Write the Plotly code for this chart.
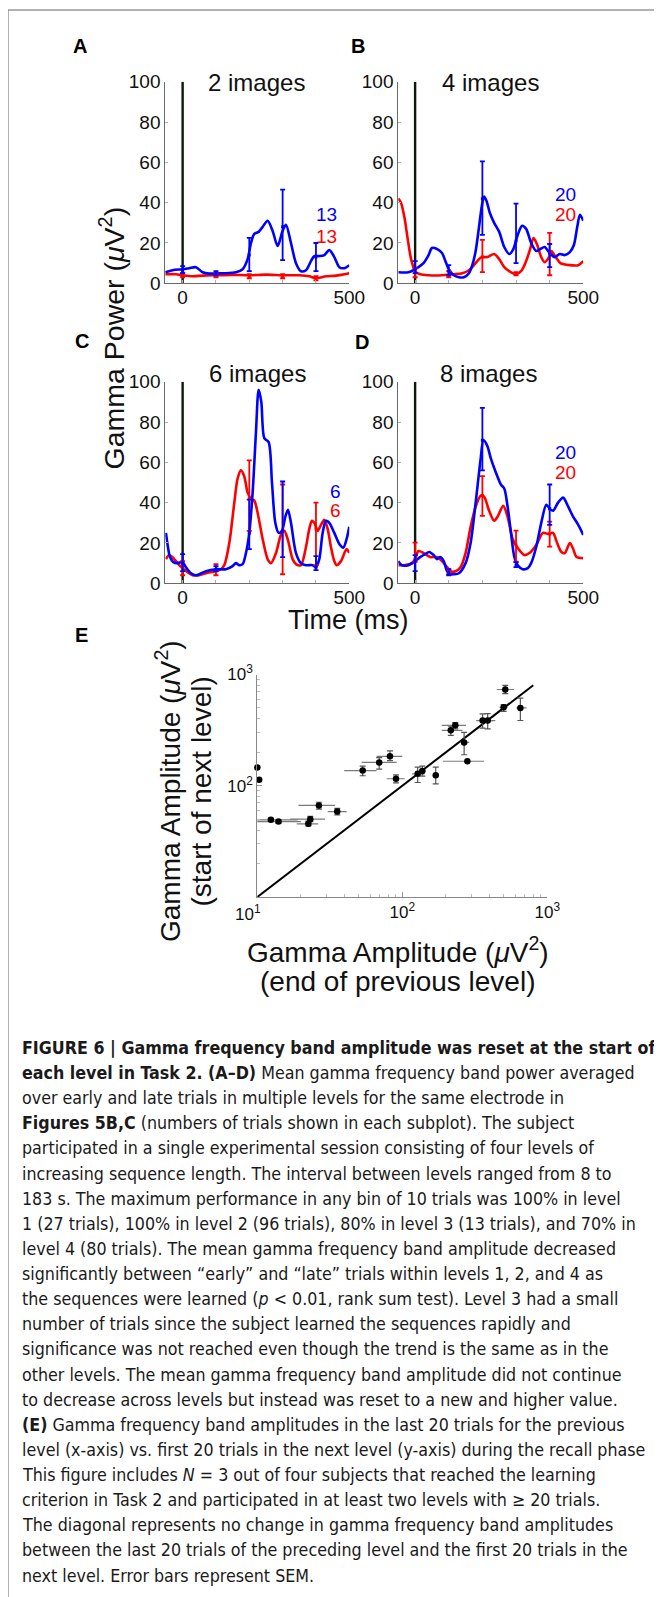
import plotly.graph_objects as go

W, H = 662, 1597
OX, OY = 8, 8  # page body margin offset compensation
def PX(x): return (x - OX) / W
def PY(y): return 1 - (y - OY) / H

FONT = "Liberation Sans, Arial, Helvetica, sans-serif"
CAPFONT = "DejaVu Sans Condensed, Liberation Sans Narrow, Arial Narrow, sans-serif"
BLUE = "#0000ff"
RED = "#ff0000"

# ---------------- Panels A-D data ----------------
a_blue_x = [-52,-30,0,20,40,60,80,100,130,160,180,195,205,215,228,240,255,270,285,300,310,325,340,355,370,385,395,410,425,440,455,470,485,500]
a_blue_y = [5.5,6.5,7,7.5,8,5.5,4.8,5,5,5.5,7,12,20,24.5,25.5,28,31,26,18.5,26,29,20,10,6,6.5,11,13.5,13.5,14,16.5,13,8,7.5,9]
a_red_x = [-52,-20,0,30,60,100,150,200,250,300,350,380,400,430,460,500]
a_red_y = [4.5,4.5,4,3.5,3.8,4,4.2,4,4.3,4,4,3.5,2.5,3.5,3.8,5]

b_blue_x = [-50,-20,0,10,25,40,50,65,80,90,100,115,130,145,160,170,180,190,198,205,212,222,235,250,265,280,292,305,318,330,345,360,372,385,400,415,430,445,460,472,482,490,500]
b_blue_y = [5.5,5.5,7,8,10,14,17.5,17,15,11,7,4,3,3,5,9,16,28,38,43,41,35,30,25.5,18,14.5,17,24,28.5,27,20,16,17,18,15,13,14.5,14,15.5,19,28,34,31]
b_red_x = [-50,-42,-32,-22,-12,0,15,40,80,110,140,160,175,190,200,215,235,250,265,280,300,315,330,342,352,362,375,385,398,405,418,432,460,485,500]
b_red_y = [42,40,33,22,12,6,4.5,4,4,4.5,5,6.5,9,12,13,13,14.5,12,8,6,4.5,6,11,17,22.5,19.5,13,10.5,13,16,13,10,9,9,11]

c_blue_x = [-50,-45,-38,-28,-15,-5,0,10,25,40,50,70,100,130,150,160,170,180,190,200,210,220,228,236,245,258,268,278,288,298,308,316,325,340,355,370,390,400,410,420,430,440,455,470,482,492,500]
c_blue_y = [25,19,13,10.5,10,10.5,10.5,8,5,4,4.5,6,7,7,8.5,10,9,9.5,15,25,45,75,96,90,72,70,50,30,25,26,33,36.5,30,15,10,9,9,8,12,25,31,30,25,19.5,17.7,22,28]
c_red_x = [-50,-40,-25,-10,0,15,30,50,70,100,115,125,140,155,165,175,185,195,205,215,225,240,255,265,280,295,305,315,330,340,355,370,380,388,395,405,415,425,435,445,455,462,475,492,500]
c_red_y = [12,14,12,9,7.5,5.5,4,4,5,6,7,9,20,40,52,56,53,45,42,41,35,22,12,10,15,24,26,22,12,9.5,9,18,27,31,30,26,29,31.5,27,18,11,9,11,17,15]

d_blue_x = [-50,-40,-20,0,15,30,42,55,65,75,85,95,105,115,130,150,165,180,195,203,215,225,240,255,265,275,285,295,305,320,335,345,360,375,390,400,410,425,440,455,470,485,500]
d_blue_y = [11,9,9,11,13,14.5,15.5,14,12,13,11,6,4.5,4.5,5,10,20,40,62,71,68,62,55,49,47,38,25,13,9,7,7.5,10,18,30,39,37,36,40,42.5,38,33,29,24]
d_red_x = [-50,-30,-10,0,10,25,45,65,80,95,105,120,135,150,165,180,195,205,220,235,245,262,275,290,305,325,340,360,380,395,410,420,435,445,460,470,480,500]
d_red_y = [9,9,10,12,16,15,13,13,11,8,6,6,8,15,28,38,43.5,43,36,31,33,38.5,33,22,17.5,14,15,19,25,24.5,25,21,15.5,15,20,17,13,12.5]

# error bars at these times
eb_x = [0, 100, 200, 300, 400]
a_blue_mid = [6.5, 5, 14, 28, 13];   a_blue_lo = [5, 4, 6, 11.5, 6];     a_blue_hi = [8.5, 6, 22.5, 46.5, 20]
a_red_mid = [4, 4, 3.5, 3.5, 2.5];   a_red_lo = [3, 3, 2.5, 2.5, 1.5];   a_red_hi = [5, 5, 4.5, 4.5, 3.5]
b_blue_mid = [7, 6, 42, 21, 15];     b_blue_lo = [5, 4, 24, 10, 8];      b_blue_hi = [11, 9, 60.5, 39.5, 19.5]
b_red_mid = [5.5, 4, 13, 4.5, 15];   b_red_lo = [3, 3, 5.5, 4, 4];       b_red_hi = [7.5, 6, 21.5, 5.5, 25]
c_blue_mid = [10, 7, 25, 26, 8];     c_blue_lo = [6, 6, 17, 13, 6.5];    c_blue_hi = [14.5, 8.5, 41.5, 50.5, 13.5]
c_red_mid = [7.5, 6, 42, 26, 27];    c_red_lo = [4, 4, 26, 4.5, 9];      c_red_hi = [11, 9.5, 61, 49, 40]
d_blue_mid = [11, 5, 71, 9, 37];     d_blue_lo = [6, 4, 56, 8, 29];      d_blue_hi = [14, 7, 87, 10.5, 49]
d_red_mid = [12, 6, 43.5, 19, 24.5]; d_red_lo = [10.7, 4.5, 33.4, 10.7, 18.2]; d_red_hi = [20.2, 7, 53.2, 26.1, 30.6]

titles = ["2 images", "4 images", "6 images", "8 images"]
trial_counts = [("13", "13"), ("20", "20"), ("6", "6"), ("20", "20")]
letters = ["A", "B", "C", "D", "E"]
x_ticks = [0, 100, 200, 300, 400, 500]
x_ticktext = ["0", " ", " ", " ", " ", "500"]
y_ticks = [0, 20, 40, 60, 80, 100]

# ---------------- Panel E data ----------------
e_x    = [10, 10.3, 12.4, 14.0, 22.5, 23.2, 26.6, 35.6, 53.3, 69.3, 82.2, 90.5, 127.6, 137.4, 170, 216, 232, 267, 281, 358, 388, 500, 513, 652]
e_y    = [146, 113, 49.4, 47.6, 45.5, 50.1, 66.5, 58.6, 137, 162, 184, 115.6, 128, 135.5, 124, 315, 349, 245, 166, 385, 385, 507, 733, 501]
e_x_lo = [10, 10.3, 8.9, 9.0, 18.7, 16.8, 19.2, 30.6, 39.8, 52.4, 66.5, 78, 117, 130, 163, 187, 187, 249, 191, 323, 360, 468, 448, 611]
e_x_hi = [10, 10.3, 19, 20, 26.3, 29.3, 34.3, 41.3, 66.4, 91.4, 100, 104, 142, 145, 178, 260, 275, 289, 366, 438, 420, 532, 588, 720]
e_y_lo = [146, 113, 48, 46, 43.5, 47.5, 61.7, 54.8, 123, 141, 168, 106, 107, 122, 104, 284, 325, 190, 166, 330, 325, 467, 672, 386]
e_y_hi = [146, 113, 51, 49, 48, 53, 71.1, 62.5, 150, 179, 206, 125, 147, 150, 147, 343, 370, 302, 166, 443, 445, 537, 800, 614]
diag = [10, 800]
e_ticks = [10, 100, 1000]
e_minor = [20, 30, 40, 50, 60, 70, 80, 90, 200, 300, 400, 500, 600, 700, 800, 900]

caption_lines = [
    "<b>FIGURE 6 | Gamma frequency band amplitude was reset at the start of</b>",
    "<b>each level in Task 2. (A–D)</b> Mean gamma frequency band power averaged",
    "over early and late trials in multiple levels for the same electrode in",
    "<b>Figures 5B,C</b> (numbers of trials shown in each subplot). The subject",
    "participated in a single experimental session consisting of four levels of",
    "increasing sequence length. The interval between levels ranged from 8 to",
    "183 s. The maximum performance in any bin of 10 trials was 100% in level",
    "1 (27 trials), 100% in level 2 (96 trials), 80% in level 3 (13 trials), and 70% in",
    "level 4 (80 trials). The mean gamma frequency band amplitude decreased",
    "significantly between “early” and “late” trials within levels 1, 2, and 4 as",
    "the sequences were learned (<i>p</i> &lt; 0.01, rank sum test). Level 3 had a small",
    "number of trials since the subject learned the sequences rapidly and",
    "significance was not reached even though the trend is the same as in the",
    "other levels. The mean gamma frequency band amplitude did not continue",
    "to decrease across levels but instead was reset to a new and higher value.",
    "<b>(E)</b> Gamma frequency band amplitudes in the last 20 trials for the previous",
    "level (x-axis) vs. first 20 trials in the next level (y-axis) during the recall phase",
    "This figure includes <i>N</i> = 3 out of four subjects that reached the learning",
    "criterion in Task 2 and participated in at least two levels with ≥ 20 trials.",
    "The diagonal represents no change in gamma frequency band amplitudes",
    "between the last 20 trials of the preceding level and the first 20 trials in the",
    "next level. Error bars represent SEM.",
]

# ---------------- build ----------------
fig = go.Figure()

panels = [
    dict(xa="x", ya="y", dx=(165.3, 349.3), dy=(81.7, 283.3), xr=[-52, 500],
         blue=(a_blue_x, a_blue_y), red=(a_red_x, a_red_y),
         be=(a_blue_mid, a_blue_lo, a_blue_hi), re=(a_red_mid, a_red_lo, a_red_hi),
         title_xy=(257, 82), lab_xy=(326.7, 215, 236), letter_xy=(80, 46)),
    dict(xa="x2", ya="y2", dx=(398.3, 583.3), dy=(81.7, 283.3), xr=[-50, 500],
         blue=(b_blue_x, b_blue_y), red=(b_red_x, b_red_y),
         be=(b_blue_mid, b_blue_lo, b_blue_hi), re=(b_red_mid, b_red_lo, b_red_hi),
         title_xy=(490, 82.5), lab_xy=(565, 195, 215), letter_xy=(358, 46)),
    dict(xa="x3", ya="y3", dx=(165.3, 349.3), dy=(381.7, 583.3), xr=[-52, 500],
         blue=(c_blue_x, c_blue_y), red=(c_red_x, c_red_y),
         be=(c_blue_mid, c_blue_lo, c_blue_hi), re=(c_red_mid, c_red_lo, c_red_hi),
         title_xy=(257.3, 373.3), lab_xy=(335, 491.7, 510.7), letter_xy=(81.7, 341)),
    dict(xa="x4", ya="y4", dx=(398.3, 583.3), dy=(381.7, 583.3), xr=[-50, 500],
         blue=(d_blue_x, d_blue_y), red=(d_red_x, d_red_y),
         be=(d_blue_mid, d_blue_lo, d_blue_hi), re=(d_red_mid, d_red_lo, d_red_hi),
         title_xy=(488.5, 373.3), lab_xy=(565, 452.7, 472.7), letter_xy=(362, 342.5)),
]

annotations = []
layout_axes = {}

def ann(text, x, y, size, color="#111", family=FONT, angle=0, xanchor="center"):
    annotations.append(dict(text=text, x=PX(x), y=PY(y), xref="paper", yref="paper",
                            xanchor=xanchor, yanchor="middle", showarrow=False, textangle=angle,
                            align="left", font=dict(family=family, size=size, color=color)))

for i, p in enumerate(panels):
    xa, ya = p["xa"], p["ya"]
    for (xs, ys), col in ((p["red"], RED), (p["blue"], BLUE)):
        fig.add_trace(go.Scatter(x=xs, y=ys, mode="lines", xaxis=xa, yaxis=ya,
                                 line=dict(color=col, width=2.6, shape="spline", smoothing=0.8),
                                 showlegend=False, hoverinfo="skip"))
    fig.add_trace(go.Scatter(x=[0, 0], y=[0, 100], mode="lines", xaxis=xa, yaxis=ya,
                             line=dict(color="#0b180b", width=2.4), showlegend=False, hoverinfo="skip"))
    for (mid, lo, hi), col in ((p["re"], RED), (p["be"], BLUE)):
        fig.add_trace(go.Scatter(
            x=eb_x, y=mid, mode="markers", xaxis=xa, yaxis=ya,
            marker=dict(size=3, color=col, symbol="square"),
            error_y=dict(type="data", symmetric=False,
                         array=[h - m for h, m in zip(hi, mid)],
                         arrayminus=[m - l for m, l in zip(mid, lo)],
                         color=col, thickness=1.8, width=2.5),
            showlegend=False, hoverinfo="skip"))
    n = "" if i == 0 else str(i + 1)
    layout_axes["xaxis" + n] = dict(
        domain=[PX(p["dx"][0]), PX(p["dx"][1])], range=p["xr"], anchor=ya, automargin=False,
        showline=True, linecolor="#6a6a6a", linewidth=1, showgrid=False, zeroline=False,
        tickvals=x_ticks, ticktext=x_ticktext, ticklabelstandoff=-3,
        ticks="inside", ticklen=3, tickcolor="#b0b0b0",
        tickfont=dict(family=FONT, size=19, color="#111"))
    layout_axes["yaxis" + n] = dict(
        domain=[PY(p["dy"][1]), PY(p["dy"][0])], range=[0, 100], anchor=xa, automargin=False,
        showline=True, linecolor="#6a6a6a", linewidth=1, showgrid=False, zeroline=False,
        tickvals=y_ticks, ticks="inside", ticklen=3, tickcolor="#b0b0b0",
        tickfont=dict(family=FONT, size=19, color="#111"))
    tx, ty = p["title_xy"]
    ann(titles[i], tx, ty, 24)
    lx, lyb, lyr = p["lab_xy"]
    nb, nr = trial_counts[i]
    ann(nb, lx, lyb, 19, BLUE)
    ann(nr, lx, lyr, 19, RED)
    gx, gy = p["letter_xy"]
    ann("<b>%s</b>" % letters[i], gx, gy, 20, "#000")

# Panel E
fig.add_trace(go.Scatter(x=diag, y=diag, mode="lines", xaxis="x5", yaxis="y5",
                         line=dict(color="#000", width=2), showlegend=False, hoverinfo="skip"))
fig.add_trace(go.Scatter(
    x=e_x, y=e_y, mode="markers", xaxis="x5", yaxis="y5", cliponaxis=False,
    marker=dict(size=6.5, color="#000"),
    error_x=dict(type="data", symmetric=False,
                 array=[h - v for h, v in zip(e_x_hi, e_x)],
                 arrayminus=[v - l for v, l in zip(e_x, e_x_lo)],
                 color="#7a7a7a", thickness=1.2, width=0),
    error_y=dict(type="data", symmetric=False,
                 array=[h - v for h, v in zip(e_y_hi, e_y)],
                 arrayminus=[v - l for v, l in zip(e_y, e_y_lo)],
                 color="#555", thickness=1.2, width=3),
    showlegend=False, hoverinfo="skip"))

layout_axes["xaxis5"] = dict(
    domain=[PX(257.3), PX(547.3)], type="log", range=[1, 3], anchor="y5", automargin=False,
    showline=True, linecolor="#888", linewidth=1, showgrid=False, zeroline=False,
    tickvals=e_ticks, ticktext=[" ", "10<sup>2</sup>", "10<sup>3</sup>"],
    ticks="inside", ticklen=5, tickcolor="#999",
    minor=dict(tickvals=e_minor, ticks="inside", ticklen=3, tickcolor="#bbb", showgrid=False),
    tickfont=dict(family=FONT, size=17, color="#111"))
layout_axes["yaxis5"] = dict(
    domain=[PY(897), PY(674.5)], type="log", range=[1, 3], anchor="x5", automargin=False,
    showline=True, linecolor="#888", linewidth=1, showgrid=False, zeroline=False,
    tickvals=e_ticks[1:], ticktext=["10<sup>2</sup>", "10<sup>3</sup>"],
    ticks="inside", ticklen=5, tickcolor="#999",
    minor=dict(tickvals=e_minor, ticks="inside", ticklen=3, tickcolor="#bbb", showgrid=False),
    tickfont=dict(family=FONT, size=17, color="#111"))
ann("10<sup>1</sup>", 247.5, 913, 17)
ann("<b>E</b>", 81, 635, 20, "#000")

# Big axis labels
ann("Gamma Power (<i>μ</i>V<sup>2</sup>)", 112, 338.5, 28.5, angle=-90)
ann("Time (ms)", 348, 620, 27)
ann("Gamma Amplitude (<i>μ</i>V<sup>2</sup>)", 168, 791, 28, angle=-90)
ann("(start of next level)", 200.5, 792, 28, angle=-90)
ann("Gamma Amplitude (<i>μ</i>V<sup>2</sup>)", 398, 950, 28)
ann("(end of previous level)", 397, 982, 28)

# Caption
for k, line in enumerate(caption_lines):
    ann(line, 20.4, 1048 + k * 25.12, 17.7, "#1a1a1a", CAPFONT, xanchor="left")

shapes = [
    dict(type="line", xref="paper", yref="paper", x0=PX(8), x1=1, y0=PY(10), y1=PY(10),
         line=dict(color="#666", width=1)),
    dict(type="line", xref="paper", yref="paper", x0=PX(8), x1=PX(8), y0=PY(10), y1=0,
         line=dict(color="#666", width=1)),
]

fig.update_layout(template="none", width=W, height=H,
                  margin=dict(l=0, r=0, t=0, b=0, pad=0, autoexpand=False),
                  paper_bgcolor="white", plot_bgcolor="white",
                  annotations=annotations, shapes=shapes, **layout_axes)
fig.write_html("out.html")
